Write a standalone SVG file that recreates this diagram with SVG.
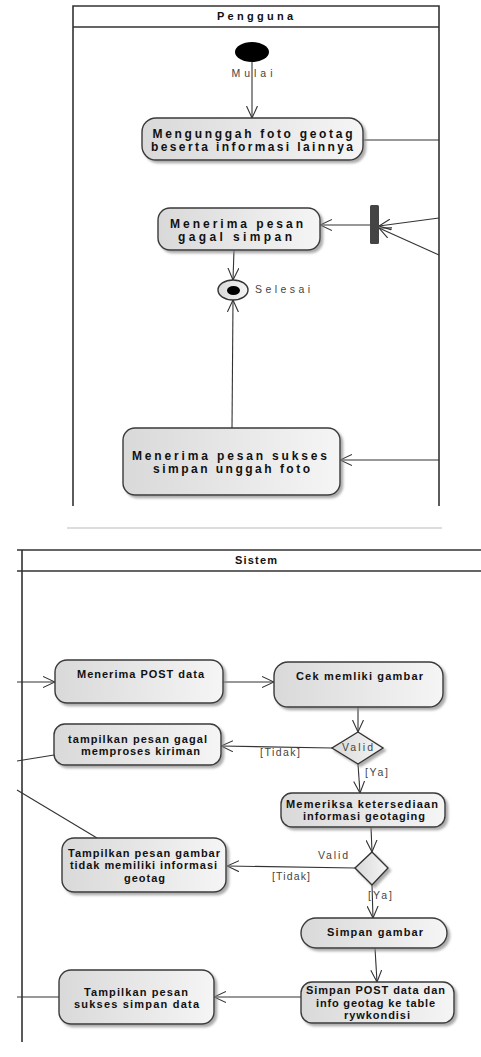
<svg xmlns="http://www.w3.org/2000/svg" width="481" height="1057" viewBox="0 0 481 1057">
<style>
.lane{fill:none;stroke:#333;stroke-width:1.6}
.act{fill:url(#g);stroke:#3a3a3a;stroke-width:1.4;filter:url(#sh)}
.t{font-family:"Liberation Sans",Arial,sans-serif;font-weight:bold;font-size:12px;fill:#111;text-anchor:middle}
.s{font-size:11px}
.h{font-family:"Liberation Sans",Arial,sans-serif;font-weight:bold;font-size:11px;fill:#111;text-anchor:middle}
.l{font-family:"Liberation Sans",Arial,sans-serif;font-size:10.5px;fill:#444}
.c{fill:none;stroke:#333;stroke-width:1.1}
.ca{fill:none;stroke:#333;stroke-width:1.1;marker-end:url(#arr)}
</style>
<defs>
<linearGradient id="g" x1="0" y1="0" x2="1" y2="0">
<stop offset="0" stop-color="#d9d9d9"/>
<stop offset="1" stop-color="#f5f5f5"/>
</linearGradient>
<filter id="sh" x="-10%" y="-20%" width="125%" height="150%">
<feDropShadow dx="2.5" dy="2.5" stdDeviation="1.2" flood-color="#888" flood-opacity="0.7"/>
</filter>
<marker id="arr" viewBox="0 0 12 12" refX="12" refY="6" markerWidth="12" markerHeight="12" markerUnits="userSpaceOnUse" orient="auto">
<path d="M0,0.5 L12,6 L0,11.5" fill="none" stroke="#333" stroke-width="1.1"/>
</marker>
</defs>
<rect width="481" height="1057" fill="#fff"/>

<g id="lane-pengguna">
<path class="lane" d="M73,506 V6 H439 V506 M73,27 H439"/>
<text class="h" x="255" y="20" textLength="76" lengthAdjust="spacing">Pengguna</text>
</g>
<line x1="67" y1="528" x2="442" y2="528" stroke="#bbb" stroke-width="1.2"/>
<g id="lane-sistem">
<path class="lane" d="M17,550 H481 M17,571 H481 M22,550 V1042"/>
<text class="h" x="256" y="564" textLength="42" lengthAdjust="spacing">Sistem</text>
</g>

<g id="connectors">
<line class="ca" x1="252" y1="62" x2="252" y2="118"/>
<line class="c" x1="363" y1="140" x2="439" y2="140"/>
<line class="ca" x1="439" y1="218" x2="379" y2="226"/>
<line class="ca" x1="439" y1="255" x2="379" y2="228"/>
<line class="ca" x1="370" y1="225" x2="320" y2="225"/>
<line class="ca" x1="234" y1="250" x2="233" y2="280"/>
<line class="ca" x1="232" y1="428" x2="233" y2="300"/>
<line class="ca" x1="439" y1="460" x2="340" y2="460"/>

<line class="ca" x1="17" y1="682" x2="55" y2="682"/>
<line class="ca" x1="223" y1="682" x2="274" y2="682"/>
<line class="ca" x1="358" y1="707" x2="358" y2="732"/>
<line class="ca" x1="332" y1="748" x2="221" y2="746"/>
<line class="c" x1="54" y1="755" x2="17" y2="761"/>
<line class="c" x1="17" y1="790" x2="97" y2="838"/>
<line class="ca" x1="358" y1="764" x2="360" y2="793"/>
<line class="ca" x1="371" y1="827" x2="372" y2="852"/>
<line class="ca" x1="355" y1="868" x2="227" y2="866"/>
<line class="ca" x1="372" y1="885" x2="373" y2="918"/>
<line class="ca" x1="375" y1="948" x2="377" y2="982"/>
<line class="ca" x1="301" y1="997" x2="214" y2="997"/>
<line class="c" x1="59" y1="997" x2="17" y2="997"/>
<text class="l" x="260" y="756" textLength="40" lengthAdjust="spacing">[Tidak]</text>
<text class="l" x="365" y="776" textLength="23" lengthAdjust="spacing">[Ya]</text>
<text class="l" x="318" y="859" textLength="30" lengthAdjust="spacing">Valid</text>
<text class="l" x="272" y="880" textLength="38" lengthAdjust="spacing">[Tidak]</text>
<text class="l" x="368" y="899" textLength="24" lengthAdjust="spacing">[Ya]</text>
</g>

<g id="start">
<ellipse cx="252" cy="52" rx="17" ry="10" fill="#000"/>
<text class="l" x="252" y="77" text-anchor="middle" font-size="11" textLength="41" lengthAdjust="spacing" fill="#222">Mulai</text>
</g>
<g id="a-unggah">
<rect class="act" x="142" y="118" width="221" height="42" rx="14"/>
<text class="t" x="252.5" y="138" textLength="200" lengthAdjust="spacing">Mengunggah foto geotag</text>
<text class="t" x="252" y="151" textLength="202" lengthAdjust="spacing">beserta informasi lainnya</text>
</g>
<g id="fork">
<rect x="370" y="205" width="9" height="39" rx="1.5" fill="#444"/>
</g>
<g id="a-gagal">
<rect class="act" x="158" y="208" width="162" height="42" rx="12"/>
<text class="t" x="236.5" y="228" textLength="133" lengthAdjust="spacing">Menerima pesan</text>
<text class="t" x="235" y="241" textLength="114" lengthAdjust="spacing">gagal simpan</text>
</g>
<g id="end">
<ellipse cx="233" cy="290" rx="15" ry="10" fill="url(#g)" stroke="#333" stroke-width="1.4"/>
<ellipse cx="233.5" cy="290.5" rx="6.5" ry="4.5" fill="#000"/>
<text class="l" x="255" y="293" font-size="11" textLength="55" lengthAdjust="spacing" fill="#222">Selesai</text>
</g>
<g id="a-sukses">
<rect class="act" x="123" y="428" width="217" height="67" rx="12"/>
<text class="t" x="229.5" y="460" textLength="195" lengthAdjust="spacing">Menerima pesan sukses</text>
<text class="t" x="231.5" y="473" textLength="157" lengthAdjust="spacing">simpan unggah foto</text>
</g>

<g id="a-post">
<rect class="act" x="55" y="660" width="168" height="43" rx="12"/>
<text class="t s" x="140.5" y="678" textLength="127" lengthAdjust="spacing">Menerima POST data</text>
</g>
<g id="a-cek">
<rect class="act" x="274" y="662" width="169" height="45" rx="14"/>
<text class="t s" x="359.5" y="680" textLength="127" lengthAdjust="spacing">Cek memliki gambar</text>
</g>
<g id="d-valid1">
<polygon points="358,732 383,748 358,764 332,748" fill="url(#g)" stroke="#333" stroke-width="1.4" filter="url(#sh)"/>
<text class="l" x="357.5" y="751" text-anchor="middle" textLength="31" lengthAdjust="spacing" fill="#333">Valid</text>
</g>
<g id="a-gagal-proses">
<rect class="act" x="54" y="724" width="167" height="41" rx="11"/>
<text class="t s" x="137.5" y="743" textLength="139" lengthAdjust="spacing">tampilkan pesan gagal</text>
<text class="t s" x="140.5" y="755" textLength="119" lengthAdjust="spacing">memproses kiriman</text>
</g>
<g id="a-periksa">
<rect class="act" x="281" y="793" width="164" height="34" rx="11"/>
<text class="t s" x="362" y="808" textLength="152" lengthAdjust="spacing">Memeriksa ketersediaan</text>
<text class="t s" x="364" y="820" textLength="122" lengthAdjust="spacing">informasi geotaging</text>
</g>
<g id="d-valid2">
<polygon points="372,852 388,868 372,885 355,868" fill="url(#g)" stroke="#333" stroke-width="1.4" filter="url(#sh)"/>
</g>
<g id="a-no-geotag">
<rect class="act" x="62" y="838" width="164" height="54" rx="12"/>
<text class="t s" x="144" y="857" textLength="152" lengthAdjust="spacing">Tampilkan pesan gambar</text>
<text class="t s" x="143.5" y="869" textLength="147" lengthAdjust="spacing">tidak memiliki informasi</text>
<text class="t s" x="144.5" y="882" textLength="41" lengthAdjust="spacing">geotag</text>
</g>
<g id="a-simpan">
<rect class="act" x="301" y="918" width="146" height="30" rx="15"/>
<text class="t s" x="375" y="936" textLength="96" lengthAdjust="spacing">Simpan gambar</text>
</g>
<g id="a-simpan-post">
<rect class="act" x="301" y="982" width="153" height="41" rx="11"/>
<text class="t s" x="375.5" y="994" textLength="139" lengthAdjust="spacing">Simpan POST data dan</text>
<text class="t s" x="375.5" y="1007" textLength="119" lengthAdjust="spacing">info geotag ke table</text>
<text class="t s" x="377" y="1019" textLength="66" lengthAdjust="spacing">rywkondisi</text>
</g>
<g id="a-sukses-data">
<rect class="act" x="59" y="970" width="155" height="54" rx="12"/>
<text class="t s" x="136" y="996" textLength="104" lengthAdjust="spacing">Tampilkan pesan</text>
<text class="t s" x="136.5" y="1008" textLength="125" lengthAdjust="spacing">sukses simpan data</text>
</g>
</svg>
